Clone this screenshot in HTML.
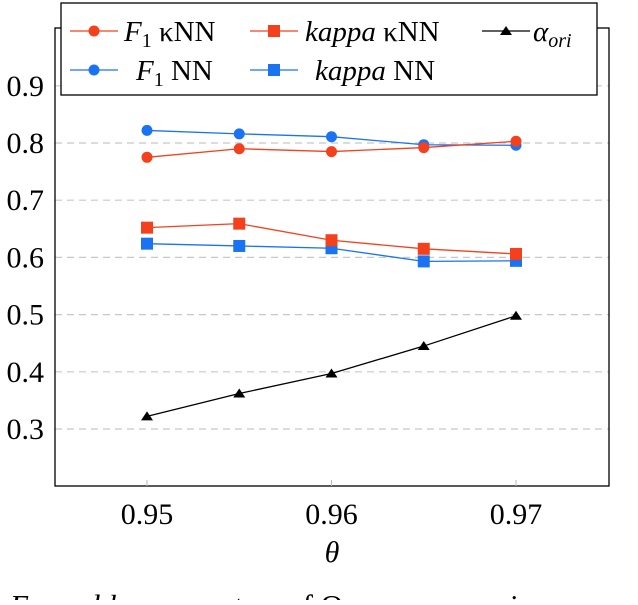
<!DOCTYPE html>
<html><head><meta charset="utf-8"><style>
body{margin:0;background:#fff;overflow:hidden;}
svg text{font-family:"Liberation Serif",serif;fill:#000;}
</style></head><body>
<svg width="638" height="600" viewBox="0 0 638 600">
<g id="grid"></g>
<rect x="55" y="28" width="554" height="458" fill="none" stroke="#000" stroke-width="1.3"/>
<g id="ticks"></g>
<g id="series"></g>
<text x="332" y="562" font-size="30" font-style="italic" text-anchor="middle">θ</text>
<text x="-22" y="616" font-size="31">4: <tspan font-style="italic">Ensemble parameters</tspan> of Our consensus in ...</text>
<g>
<rect x="61" y="3" width="536" height="92" fill="#fff" stroke="#000" stroke-width="1.3"/>
<g><line x1="70" y1="31" x2="118" y2="31" stroke="#f4401c" stroke-width="1.3"/><circle cx="94" cy="31" r="5.5" fill="#f4401c"/><text x="124" y="41" font-size="29"><tspan font-style="italic">F</tspan><tspan font-size="20" dy="6">1</tspan><tspan dy="-6"> κNN</tspan></text></g>
<g><line x1="250" y1="31" x2="298" y2="31" stroke="#f4401c" stroke-width="1.3"/><rect x="268" y="25" width="12" height="12" fill="#f4401c"/><text x="305" y="41" font-size="29"><tspan font-style="italic">kappa</tspan> κNN</text></g>
<g><line x1="482" y1="31" x2="530" y2="31" stroke="#000" stroke-width="1.3"/><polygon points="506,26 512,35 500,35" fill="#000"/><text x="533" y="41" font-size="29" font-style="italic">α<tspan font-size="20" dy="6">ori</tspan></text></g>
<g><line x1="70" y1="70" x2="118" y2="70" stroke="#1a73f0" stroke-width="1.3"/><circle cx="94" cy="70" r="5.5" fill="#1a73f0"/><text x="136" y="80" font-size="29"><tspan font-style="italic">F</tspan><tspan font-size="20" dy="6">1</tspan><tspan dy="-6"> NN</tspan></text></g>
<g><line x1="250" y1="70" x2="298" y2="70" stroke="#1a73f0" stroke-width="1.3"/><rect x="268" y="64" width="12" height="12" fill="#1a73f0"/><text x="315" y="80" font-size="29"><tspan font-style="italic">kappa</tspan> NN</text></g>
</g>
</svg>
<script>
const thetas=[0.95,0.955,0.96,0.965,0.97];
const xTicks=[0.95,0.96,0.97];
const xTickLabels=["0.95","0.96","0.97"];
const yTicks=[0.3,0.4,0.5,0.6,0.7,0.8,0.9];
const yTickLabels=["0.3","0.4","0.5","0.6","0.7","0.8","0.9"];
const f1Knn=[0.775,0.790,0.785,0.792,0.803];
const f1Nn=[0.822,0.816,0.811,0.797,0.796];
const kappaKnn=[0.652,0.659,0.630,0.615,0.606];
const kappaNn=[0.624,0.620,0.616,0.593,0.594];
const alphaOri=[0.322,0.362,0.397,0.445,0.498];
const X=t=>147+(t-0.95)*18450;
const Y=v=>143-(v-0.8)*572;
const NS="http://www.w3.org/2000/svg";
function mk(tag,attrs,parent){const e=document.createElementNS(NS,tag);for(const k in attrs)e.setAttribute(k,attrs[k]);parent.appendChild(e);return e;}
const grid=document.getElementById('grid'),ticks=document.getElementById('ticks'),ser=document.getElementById('series');
yTicks.forEach((v,i)=>{
 const g=mk('line',{x1:55,x2:609,y1:Y(v),y2:Y(v),stroke:'#c8c8c8','stroke-width':1.2,'stroke-dasharray':'7 5'},grid);
 
 
 const t=mk('text',{x:44,y:Y(v)+10,'font-size':30,'text-anchor':'end'},ticks);t.textContent=yTickLabels[i];
 
 
});
xTicks.forEach((v,i)=>{
 const l=mk('line',{x1:X(v),x2:X(v),y1:480,y2:486,stroke:'#bbb','stroke-width':1},ticks);
 
 
 const t=mk('text',{x:X(v),y:524,'font-size':30,'text-anchor':'middle'},ticks);t.textContent=xTickLabels[i];
 
 
});
function series(vals,color,marker,name){
 const g=mk('g',{},ser);
 
 
 mk('polyline',{points:vals.map((v,i)=>X(thetas[i])+','+Y(v)).join(' '),fill:'none',stroke:color,'stroke-width':1.3},g);
 vals.forEach((v,i)=>{const x=X(thetas[i]),y=Y(v);let m;
  if(marker==='c')m=mk('circle',{cx:x,cy:y,r:5.5,fill:color},g);
  else if(marker==='s')m=mk('rect',{x:x-6,y:y-6,width:12,height:12,fill:color},g);
  else m=mk('polygon',{points:`${x},${y-5} ${x+6},${y+4} ${x-6},${y+4}`,fill:color},g);
  
  
 });
}
series(kappaNn,'#1a73f0','s','kappa-nn-series');
series(kappaKnn,'#f4401c','s','kappa-knn-series');
series(f1Nn,'#1a73f0','c','f1-nn-series');
series(f1Knn,'#f4401c','c','f1-knn-series');
series(alphaOri,'#000','t','alpha-ori-series');
</script>
</body></html>
